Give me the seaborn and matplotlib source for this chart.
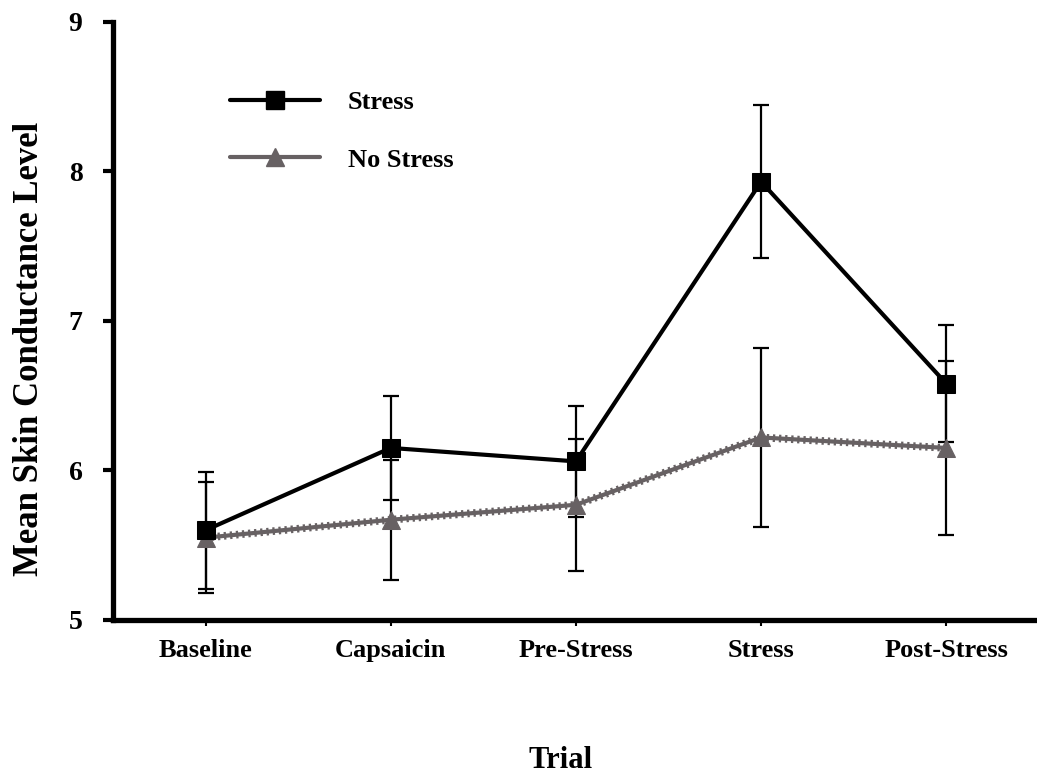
import numpy as np
import pandas as pd
import matplotlib
matplotlib.use("Agg")
import matplotlib.pyplot as plt
import seaborn as sns
from matplotlib.lines import Line2D

# data
trials = ["Baseline", "Capsaicin", "Pre-Stress", "Stress", "Post-Stress"]
stress_mean = [5.60, 6.15, 6.06, 7.93, 6.58]
stress_err = [0.39, 0.35, 0.37, 0.51, 0.39]
nostress_mean = [5.55, 5.67, 5.77, 6.22, 6.15]
nostress_err = [0.37, 0.40, 0.44, 0.60, 0.58]

gray = "#676163"

sns.set_style("white")
plt.rcParams['font.family'] = ['Liberation Serif', 'DejaVu Serif']
plt.rcParams['font.weight'] = 'bold'
plt.rcParams['text.color'] = 'black'
plt.rcParams['axes.labelcolor'] = 'black'
plt.rcParams['xtick.color'] = 'black'
plt.rcParams['ytick.color'] = 'black'

df = pd.DataFrame({
    "Trial": trials * 2,
    "Level": stress_mean + nostress_mean,
    "Group": ["Stress"] * 5 + ["No Stress"] * 5,
})

fig = plt.figure(figsize=(10.37, 7.73), dpi=100)
ax = fig.add_axes([0.109, 0.198, 0.891, 0.774])

# error bars first so lines sit on top
ax.errorbar(trials, nostress_mean, yerr=nostress_err, fmt="none", ecolor="black",
            elinewidth=1.6, capsize=5.8, capthick=1.6, zorder=1)
ax.errorbar(trials, stress_mean, yerr=stress_err, fmt="none", ecolor="black",
            elinewidth=1.6, capsize=5.8, capthick=1.6, zorder=1)

# dotted fringe under the gray line
ax.plot(trials, nostress_mean, color=gray, lw=5.5, ls=(0, (0.3, 0.5)), zorder=2)
sns.lineplot(data=df[df.Group == "No Stress"], x="Trial", y="Level", ax=ax,
             color=gray, lw=3, marker="^", markersize=13, markeredgecolor=gray,
             zorder=3, sort=False)
sns.lineplot(data=df[df.Group == "Stress"], x="Trial", y="Level", ax=ax,
             color="black", lw=3, marker="s", markersize=12.5, markeredgecolor="black",
             zorder=4, sort=False)

ax.set_ylim(5, 9)
ax.set_xlim(-0.5, 4.49)
ax.set_yticks([5, 6, 7, 8, 9])

for s in ["top", "right"]:
    ax.spines[s].set_visible(False)
for s in ["left", "bottom"]:
    ax.spines[s].set_linewidth(3.8)
    ax.spines[s].set_color("black")

ax.tick_params(axis="y", direction="out", length=7, width=3, pad=15,
               labelsize=20, left=True)
ax.tick_params(axis="x", direction="out", length=4, width=1.5, pad=10,
               labelsize=19, bottom=True)
for lab in ax.get_xticklabels() + ax.get_yticklabels():
    lab.set_fontweight("bold")

ax.set_ylabel("Mean Skin Conductance Level", fontsize=25, fontweight="bold")
ax.yaxis.set_label_coords(-0.073, 0.453)
ax.set_xlabel("Trial", fontsize=22, fontweight="bold")
ax.xaxis.set_label_coords(0.484, -0.21)

handles = [
    Line2D([], [], color="black", lw=3, marker="s", markersize=12.5),
    Line2D([], [], color=gray, lw=3, marker="^", markersize=13),
]
ax.legend(handles, ["Stress", "No Stress"], loc="upper left",
          bbox_to_anchor=(0.127, 0.885), frameon=False,
          handlelength=3.4, handletextpad=1.05, labelspacing=1.3,
          borderaxespad=0, borderpad=0, prop={"weight": "bold", "size": 19})

fig.savefig("out.png", dpi=100)
